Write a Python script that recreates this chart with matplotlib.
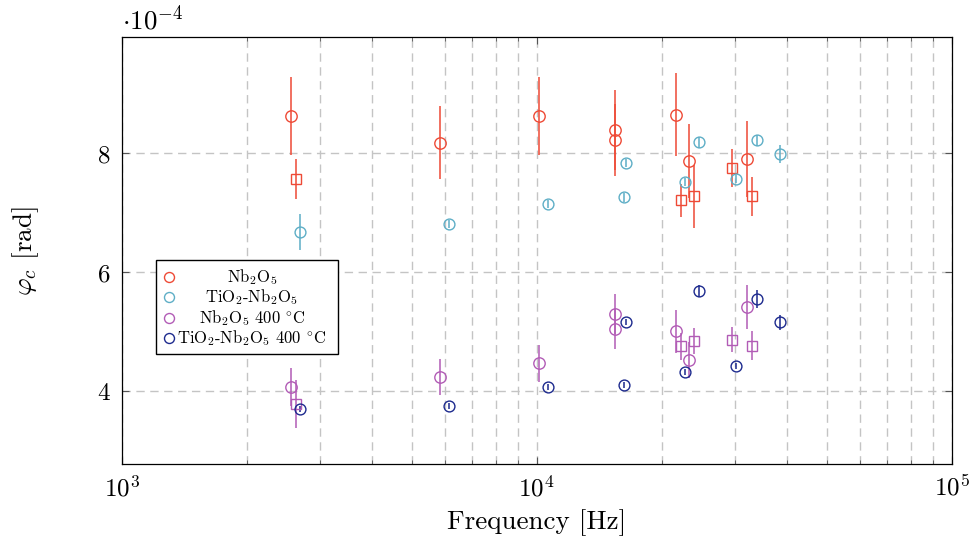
import matplotlib
matplotlib.use("Agg")
import matplotlib.pyplot as plt
from matplotlib.ticker import LogLocator, FixedLocator, NullFormatter
from matplotlib.patches import Rectangle

plt.rcParams['font.family'] = 'serif'
plt.rcParams['font.serif'] = ['cmr10']
plt.rcParams['mathtext.fontset'] = 'cm'
plt.rcParams['axes.formatter.use_mathtext'] = True

# ==========================================
# DATA  (phase values in units of 1e-4 rad)
# ==========================================
# Nb2O5 - circles
nb_f = [2558, 5848, 10146, 15440, 15440, 21660, 23240, 32170]
nb_v = [8.63, 8.18, 8.63, 8.40, 8.23, 8.65, 7.87, 7.91]
nb_e = [0.65, 0.61, 0.65, 0.67, 0.61, 0.70, 0.62, 0.64]
# Nb2O5 - squares
nb_sq_f = [2630, 22230, 23890, 29550, 33020]
nb_sq_v = [7.57, 7.21, 7.28, 7.75, 7.28]
nb_sq_e = [0.34, 0.27, 0.53, 0.32, 0.33]

# TiO2-Nb2O5
ti_f = [2690, 6145, 10665, 16230, 16410, 22770, 24600, 30270, 34010, 38640]
ti_v = [6.68, 6.82, 7.15, 7.26, 7.84, 7.52, 8.19, 7.57, 8.22, 7.99]
ti_e = [0.31, 0.07, 0.07, 0.07, 0.07, 0.07, 0.09, 0.07, 0.09, 0.15]

# Nb2O5 400 C - circles
nb4_f = [2558, 5848, 10146, 15440, 15440, 21660, 23240, 32170]
nb4_v = [4.08, 4.24, 4.47, 5.30, 5.05, 5.01, 4.53, 5.42]
nb4_e = [0.32, 0.30, 0.31, 0.34, 0.34, 0.36, 0.30, 0.37]
# Nb2O5 400 C - squares
nb4_sq_f = [2630, 22230, 23890, 29550, 33020]
nb4_sq_v = [3.79, 4.76, 4.85, 4.87, 4.77]
nb4_sq_e = [0.41, 0.23, 0.22, 0.21, 0.25]

# TiO2-Nb2O5 400 C
ti4_f = [2690, 6145, 10665, 16230, 16410, 22770, 24600, 30270, 34010, 38640]
ti4_v = [3.71, 3.76, 4.07, 4.10, 5.16, 4.33, 5.69, 4.42, 5.56, 5.16]
ti4_e = [0.05, 0.05, 0.05, 0.05, 0.05, 0.05, 0.10, 0.05, 0.15, 0.12]

labels = [r'Nb$_2$O$_5$', r'TiO$_2$-Nb$_2$O$_5$',
          r'Nb$_2$O$_5$ 400 $^{\circ}$C', r'TiO$_2$-Nb$_2$O$_5$ 400 $^{\circ}$C']
colors = ['#ee4a36', '#5eaec6', '#b25cb6', '#1d2a8e']

# ==========================================
# PLOT
# ==========================================
fig = plt.figure(figsize=(9.77, 5.48), dpi=100)
ax = fig.add_axes([0.1246, 0.1533, 0.8495, 0.7783])


def draw(f, v, e, color, marker, ms):
    ax.errorbar(f, v, yerr=e, fmt='none', ecolor=color, elinewidth=1.3,
                alpha=0.85, zorder=3)
    ax.plot(f, v, linestyle='none', marker=marker, ms=ms, mfc='none',
            mec=color, mew=1.0, zorder=4)


draw(nb_f, nb_v, nb_e, colors[0], 'o', 8.2)
draw(nb_sq_f, nb_sq_v, nb_sq_e, colors[0], 's', 7.8)
draw(ti_f, ti_v, ti_e, colors[1], 'o', 7.8)
draw(nb4_f, nb4_v, nb4_e, colors[2], 'o', 8.2)
draw(nb4_sq_f, nb4_sq_v, nb4_sq_e, colors[2], 's', 7.8)
draw(ti4_f, ti4_v, ti4_e, colors[3], 'o', 7.8)

ax.set_xscale('log')
ax.set_xlim(1e3, 1e5)
ax.set_ylim(2.78, 9.95)
ax.yaxis.set_major_locator(FixedLocator([4, 6, 8]))
ax.xaxis.set_major_locator(LogLocator(base=10, numticks=10))
ax.xaxis.set_minor_locator(LogLocator(base=10, subs=range(2, 10), numticks=20))
ax.xaxis.set_minor_formatter(NullFormatter())

grid_kw = dict(color='#c4c4c4', linestyle=(0, (6, 4)), linewidth=1.0)
ax.grid(True, which='major', axis='both', **grid_kw)
ax.grid(True, which='minor', axis='x', **grid_kw)
ax.set_axisbelow(True)

ax.tick_params(which='both', direction='in', top=True, right=True,
               color='#555555', labelsize=18)
ax.tick_params(which='major', length=5, width=0.8, pad=8)
ax.tick_params(which='minor', length=3, width=0.6)
for s in ax.spines.values():
    s.set_linewidth(0.9)

ax.set_xlabel('Frequency [Hz]', fontsize=19.5, labelpad=6)
ax.set_ylabel(r'$\varphi_c$ [rad]', fontsize=19.5, labelpad=40)
ax.text(0.0, 1.008, r'$\cdot 10^{-4}$', transform=ax.transAxes,
        ha='left', va='bottom', fontsize=19.5)

# legend (centred entries, pgfplots style)
ax.add_patch(Rectangle((0.041, 0.258), 0.220, 0.220, transform=ax.transAxes,
                       facecolor='white', edgecolor='black', linewidth=1.0,
                       zorder=6))
rows = [0.439, 0.391, 0.343, 0.295]
for lab, col, yy in zip(labels, colors, rows):
    ax.plot([0.0574], [yy], transform=ax.transAxes, linestyle='none',
            marker='o', ms=7.2, mfc='none', mec=col, mew=1.0, zorder=7,
            clip_on=False)
    ax.text(0.157, yy, lab, transform=ax.transAxes, ha='center',
            va='center', fontsize=12, zorder=7)

fig.savefig('out.png', dpi=100)
